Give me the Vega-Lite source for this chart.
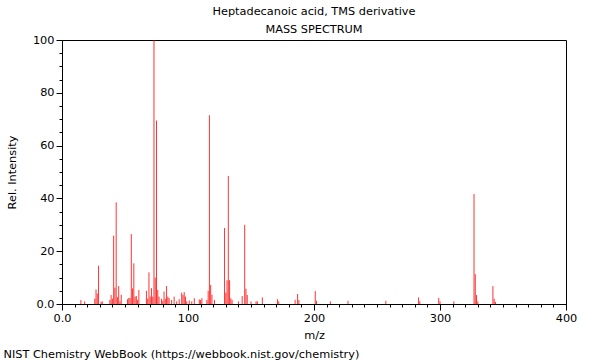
{
  "$schema": "https://vega.github.io/schema/vega-lite/v6.json",
  "width": 504,
  "height": 264,
  "autosize": "none",
  "padding": {"left": 62, "top": 40, "right": 34, "bottom": 56},
  "background": "white",
  "title": {
    "text": "Heptadecanoic acid, TMS derivative",
    "subtitle": "MASS SPECTRUM",
    "anchor": "middle",
    "font": "DejaVu Sans",
    "subtitleFont": "DejaVu Sans",
    "fontSize": 11.3,
    "subtitleFontSize": 11.3,
    "fontWeight": "normal",
    "color": "black",
    "subtitleColor": "black",
    "offset": -1,
    "subtitlePadding": 6.5
  },
  "config": {
    "view": {"stroke": "black", "strokeWidth": 1},
    "axis": {
      "labelFont": "DejaVu Sans",
      "titleFont": "DejaVu Sans",
      "labelFontSize": 11.3,
      "titleFontSize": 11.3,
      "titleFontWeight": "normal",
      "labelColor": "black",
      "titleColor": "black",
      "domainColor": "black",
      "tickColor": "black",
      "labelFlush": false,
      "grid": false
    }
  },
  "data": {
    "values": [
      {"mz": 15, "intensity": 1.5}, {"mz": 18, "intensity": 1.0}, {"mz": 26, "intensity": 2},
      {"mz": 27, "intensity": 5.5}, {"mz": 28, "intensity": 4}, {"mz": 29, "intensity": 14.5},
      {"mz": 31, "intensity": 0.8}, {"mz": 32, "intensity": 1}, {"mz": 38, "intensity": 1.5},
      {"mz": 39, "intensity": 3.4}, {"mz": 40, "intensity": 2}, {"mz": 41, "intensity": 25.9},
      {"mz": 42, "intensity": 6.2}, {"mz": 43, "intensity": 38.5}, {"mz": 44, "intensity": 2.6},
      {"mz": 45, "intensity": 6.8}, {"mz": 46, "intensity": 1}, {"mz": 47, "intensity": 3.5},
      {"mz": 52, "intensity": 1.8}, {"mz": 53, "intensity": 2.3}, {"mz": 54, "intensity": 2.3},
      {"mz": 55, "intensity": 26.5}, {"mz": 56, "intensity": 5.9}, {"mz": 57, "intensity": 15.4},
      {"mz": 58, "intensity": 2.8}, {"mz": 59, "intensity": 3}, {"mz": 60, "intensity": 1.5},
      {"mz": 61, "intensity": 5.3}, {"mz": 67, "intensity": 5}, {"mz": 68, "intensity": 2},
      {"mz": 69, "intensity": 12}, {"mz": 70, "intensity": 2.8}, {"mz": 71, "intensity": 6},
      {"mz": 72, "intensity": 2.8}, {"mz": 73, "intensity": 100}, {"mz": 74, "intensity": 10},
      {"mz": 75, "intensity": 69.5}, {"mz": 76, "intensity": 5.3}, {"mz": 77, "intensity": 2.8},
      {"mz": 79, "intensity": 2}, {"mz": 80, "intensity": 1.2}, {"mz": 81, "intensity": 4.7},
      {"mz": 82, "intensity": 2}, {"mz": 83, "intensity": 6.8}, {"mz": 84, "intensity": 2.8},
      {"mz": 85, "intensity": 2.3}, {"mz": 87, "intensity": 1.5}, {"mz": 89, "intensity": 2.8},
      {"mz": 91, "intensity": 1}, {"mz": 93, "intensity": 1.8}, {"mz": 95, "intensity": 4.3},
      {"mz": 96, "intensity": 3.5}, {"mz": 97, "intensity": 4.5}, {"mz": 98, "intensity": 2.8},
      {"mz": 99, "intensity": 1}, {"mz": 101, "intensity": 1.3}, {"mz": 103, "intensity": 1},
      {"mz": 105, "intensity": 2.2}, {"mz": 109, "intensity": 1.7}, {"mz": 110, "intensity": 1.5},
      {"mz": 111, "intensity": 2.2}, {"mz": 115, "intensity": 1.5}, {"mz": 116, "intensity": 5},
      {"mz": 117, "intensity": 71.5}, {"mz": 118, "intensity": 7.2}, {"mz": 119, "intensity": 3.5},
      {"mz": 121, "intensity": 1.5}, {"mz": 129, "intensity": 28.8}, {"mz": 130, "intensity": 4.3},
      {"mz": 131, "intensity": 9}, {"mz": 132, "intensity": 48.5}, {"mz": 133, "intensity": 9},
      {"mz": 134, "intensity": 2.2}, {"mz": 135, "intensity": 1.5}, {"mz": 140, "intensity": 1},
      {"mz": 143, "intensity": 3}, {"mz": 145, "intensity": 30}, {"mz": 146, "intensity": 5.8},
      {"mz": 147, "intensity": 3.4}, {"mz": 150, "intensity": 1}, {"mz": 154, "intensity": 1},
      {"mz": 155, "intensity": 1}, {"mz": 159, "intensity": 2.5}, {"mz": 171, "intensity": 1.8},
      {"mz": 172, "intensity": 1}, {"mz": 185, "intensity": 1.6}, {"mz": 187, "intensity": 3.8},
      {"mz": 188, "intensity": 1.5}, {"mz": 201, "intensity": 4.9}, {"mz": 202, "intensity": 1.2},
      {"mz": 213, "intensity": 1}, {"mz": 227, "intensity": 1.2}, {"mz": 257, "intensity": 1.2},
      {"mz": 283, "intensity": 2.5}, {"mz": 284, "intensity": 1}, {"mz": 299, "intensity": 2.3},
      {"mz": 300, "intensity": 1}, {"mz": 311, "intensity": 1}, {"mz": 327, "intensity": 41.7},
      {"mz": 328, "intensity": 11.3}, {"mz": 329, "intensity": 3.4}, {"mz": 330, "intensity": 1},
      {"mz": 342, "intensity": 6.8}, {"mz": 343, "intensity": 2}, {"mz": 344, "intensity": 0.8}
    ]
  },
  "layer": [
    {
      "mark": {"type": "rule", "color": "#ff0000", "strokeWidth": 1, "opacity": 0.8},
      "encoding": {
        "x": {
          "field": "mz", "type": "quantitative",
          "scale": {"domain": [0, 400], "nice": false, "zero": false},
          "axis": {
            "orient": "bottom",
            "values": [0, 100, 200, 300, 400],
            "labelExpr": "datum.value == 0 ? '0.0' : datum.label",
            "tickSize": 6,
            "labelPadding": 2,
            "title": "m/z",
            "titlePadding": 6
          }
        },
        "y": {
          "field": "intensity", "type": "quantitative",
          "scale": {"domain": [0, 100], "nice": false},
          "axis": {
            "values": [0, 20, 40, 60, 80, 100],
            "labelExpr": "datum.value == 0 ? '0.0' : datum.label",
            "tickSize": 6,
            "labelPadding": 2,
            "title": "Rel. Intensity",
            "titlePadding": 15
          }
        },
        "y2": {"datum": 0}
      }
    },
    {
      "mark": {"type": "rule", "opacity": 0},
      "encoding": {
        "x": {
          "field": "mz", "type": "quantitative",
          "scale": {"domain": [0, 400], "nice": false, "zero": false},
          "axis": {
            "orient": "bottom",
            "values": [10, 20, 30, 40, 50, 60, 70, 80, 90, 110, 120, 130, 140, 150, 160, 170, 180, 190, 210, 220, 230, 240, 250, 260, 270, 280, 290, 310, 320, 330, 340, 350, 360, 370, 380, 390],
            "labels": false,
            "domain": false,
            "tickSize": 3,
            "offset": 0,
            "title": "NIST Chemistry WebBook (https://webbook.nist.gov/chemistry)",
            "titleX": -59,
            "titleY": 53,
            "titleAlign": "left",
            "titleAnchor": "start",
            "titleBaseline": "alphabetic"
          }
        }
      }
    },
    {
      "mark": {"type": "rule", "opacity": 0},
      "encoding": {
        "y": {
          "field": "intensity", "type": "quantitative",
          "scale": {"domain": [0, 100], "nice": false},
          "axis": {
            "orient": "left",
            "values": [5, 10, 15, 25, 30, 35, 45, 50, 55, 65, 70, 75, 85, 90, 95],
            "labels": false,
            "domain": false,
            "tickSize": 3,
            "offset": 0,
            "title": null
          }
        }
      }
    }
  ],
  "resolve": {"axis": {"x": "independent", "y": "independent"}}
}
